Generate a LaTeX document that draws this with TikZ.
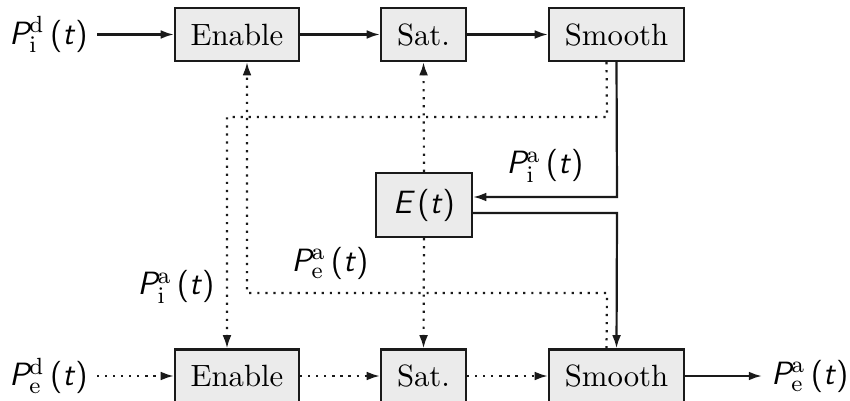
\documentclass[tikz,border=0pt]{standalone}
\usetikzlibrary{arrows.meta}
\definecolor{boxfill}{HTML}{EBEBEB}
\definecolor{linec}{HTML}{1A1A1A}
\newcommand{\sigP}[2]{{\sffamily\itshape P}$^{\mathrm{#1}}_{\mathrm{#2}}$\,{\sffamily(\itshape t\/\upshape)}}
\begin{document}
\begin{tikzpicture}[x=0.012cm,y=-0.012cm,
  every node/.style={font=\fontsize{10.5}{12}\selectfont},
  blk/.style={draw=linec,fill=boxfill,line width=0.75pt,inner sep=0pt,minimum height=53*0.012cm},
  conn/.style={draw=linec,line width=0.75pt,-{Latex[length=4.5pt,width=3pt]}},
  dconn/.style={conn,dotted},
  lbl/.style={inner sep=3pt,font=\fontsize{11}{13}\selectfont}]
\useasboundingbox (0,0) rectangle (850,401);
% top row
\node[blk,minimum width=124*0.012cm] (en1) at (237,34.5) {Enable};
\node[blk,minimum width=85*0.012cm]  (sa1) at (423.5,34.5) {Sat.};
\node[blk,minimum width=135*0.012cm] (sm1) at (616.5,34.5) {Smooth};
% bottom row
\node[blk,minimum width=124*0.012cm] (en2) at (237,376) {Enable};
\node[blk,minimum width=85*0.012cm]  (sa2) at (423.5,376) {Sat.};
\node[blk,minimum width=135*0.012cm] (sm2) at (616.5,376) {Smooth};
% energy
\node[blk,minimum width=96*0.012cm,minimum height=64*0.012cm,font=\fontsize{11}{13}\selectfont] (E) at (424,205) {{\sffamily\itshape E}\,{\sffamily(\itshape t\/\upshape)}};
% labels
\node[lbl,anchor=east] (pid) at (97,34.5) {\sigP{d}{i}};
\node[lbl,anchor=east] (ped) at (97,376) {\sigP{d}{e}};
\node[lbl,anchor=west] (pea) at (762,376) {\sigP{a}{e}};
\node[lbl] (lia1) at (545,166) {\sigP{a}{i}};
\node[lbl] (lia2) at (176,287) {\sigP{a}{i}};
\node[lbl] (lea) at (330,263) {\sigP{a}{e}};
% coordinates
\coordinate (c1) at (607,117);
\coordinate (c2) at (227,117);
\coordinate (c3) at (607,293);
\coordinate (c4) at (247,293);
\coordinate (c5) at (617,197);
\coordinate (c6) at (617,213);
% top row connectors
\draw[conn] (pid.east) -- (en1.west);
\draw[conn] (en1.east) -- (sa1.west);
\draw[conn] (sa1.east) -- (sm1.west);
% bottom row connectors
\draw[dconn] (ped.east) -- (en2.west);
\draw[dconn] (en2.east) -- (sa2.west);
\draw[dconn] (sa2.east) -- (sm2.west);
\draw[conn] (sm2.east) -- (pea.west);
% energy connections
\draw[conn] (sm1.south) -- (c5) -- (E.east |- c5);
\draw[conn] (E.east |- c6) -- (c6) -- (sm2.north);
\draw[dconn] (E.north) -- (sa1.south);
\draw[dconn] (E.south) -- (sa2.north);
% cross dotted paths
\draw[dconn] ([xshift=-10*0.012cm]sm1.south) -- (c1) -- (c2) -- ([xshift=-10*0.012cm]en2.north);
\draw[dconn] ([xshift=-10*0.012cm]sm2.north) -- (c3) -- (c4) -- ([xshift=10*0.012cm]en1.south);
\end{tikzpicture}
\end{document}
